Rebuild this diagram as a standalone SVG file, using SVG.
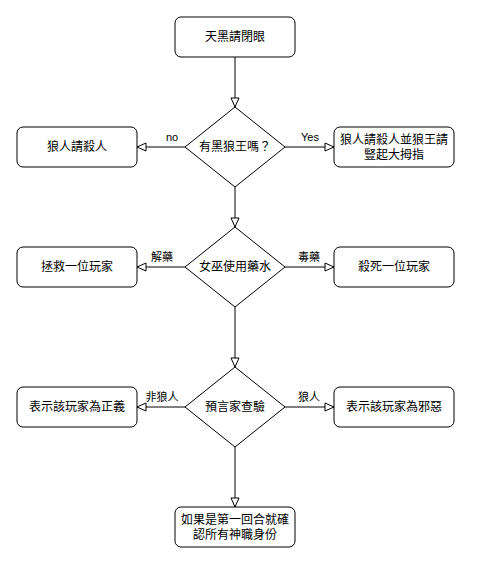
<svg xmlns="http://www.w3.org/2000/svg" width="479" height="572" viewBox="0 0 479 572">
<style>
.box{fill:#fff;stroke:#000;stroke-width:1}
.t{font-family:"Liberation Sans","Noto Sans CJK TC",sans-serif;font-size:12px;fill:#000;text-anchor:middle;dominant-baseline:central}
.e{stroke:#000;stroke-width:1;fill:none;marker-end:url(#arr)}
.lb{font-family:"Liberation Sans","Noto Sans CJK TC",sans-serif;font-size:11px;fill:#000;text-anchor:middle;dominant-baseline:central}
</style>
<defs>
<marker id="arr" markerUnits="userSpaceOnUse" markerWidth="12" markerHeight="12" refX="10" refY="5" orient="auto">
<path d="M1,1 L10,5 L1,9 Z" fill="#fff" stroke="#000" stroke-width="1"/>
</marker>
</defs>
<rect width="479" height="572" fill="#fff"/>
<g id="connectors">
<path class="e" d="M235,57 L235,107"/>
<path class="e" d="M185,147 L137,147"/>
<path class="e" d="M285,147 L334,147"/>
<path class="e" d="M235,187 L235,227"/>
<path class="e" d="M185,267 L137,267"/>
<path class="e" d="M285,267 L334,267"/>
<path class="e" d="M235,307 L235,367"/>
<path class="e" d="M185,407 L137,407"/>
<path class="e" d="M285,407 L334,407"/>
<path class="e" d="M235,447 L235,507"/>
<text class="lb" x="172" y="137">no</text>
<text class="lb" x="310" y="137">Yes</text>
<text class="lb" x="162" y="257">解藥</text>
<text class="lb" x="309" y="257">毒藥</text>
<text class="lb" x="162" y="397">非狼人</text>
<text class="lb" x="309" y="397">狼人</text>
</g>
<g id="start"><rect class="box" x="175" y="17" width="120" height="40" rx="6"/><text class="t" x="235" y="37">天黑請閉眼</text></g>
<g id="d1"><path class="box" d="M235,107 L285,147 L235,187 L185,147 Z"/><text class="t" x="235" y="147">有黑狼王嗎？</text></g>
<g id="n1"><rect class="box" x="17" y="127" width="120" height="40" rx="6"/><text class="t" x="77" y="147">狼人請殺人</text></g>
<g id="y1"><rect class="box" x="334" y="127" width="120" height="40" rx="6"/><text class="t" x="394" y="140">狼人請殺人並狼王請</text><text class="t" x="394" y="155">豎起大拇指</text></g>
<g id="d2"><path class="box" d="M235,227 L285,267 L235,307 L185,267 Z"/><text class="t" x="235" y="267">女巫使用藥水</text></g>
<g id="n2"><rect class="box" x="17" y="247" width="120" height="40" rx="6"/><text class="t" x="77" y="267">拯救一位玩家</text></g>
<g id="y2"><rect class="box" x="334" y="247" width="120" height="40" rx="6"/><text class="t" x="394" y="267">殺死一位玩家</text></g>
<g id="d3"><path class="box" d="M235,367 L285,407 L235,447 L185,407 Z"/><text class="t" x="235" y="407">預言家查驗</text></g>
<g id="n3"><rect class="box" x="17" y="387" width="120" height="40" rx="6"/><text class="t" x="77" y="407">表示該玩家為正義</text></g>
<g id="y3"><rect class="box" x="334" y="387" width="120" height="40" rx="6"/><text class="t" x="394" y="407">表示該玩家為邪惡</text></g>
<g id="end"><rect class="box" x="175" y="507" width="120" height="40" rx="6"/><text class="t" x="235" y="520">如果是第一回合就確</text><text class="t" x="235" y="535">認所有神職身份</text></g>
</svg>
